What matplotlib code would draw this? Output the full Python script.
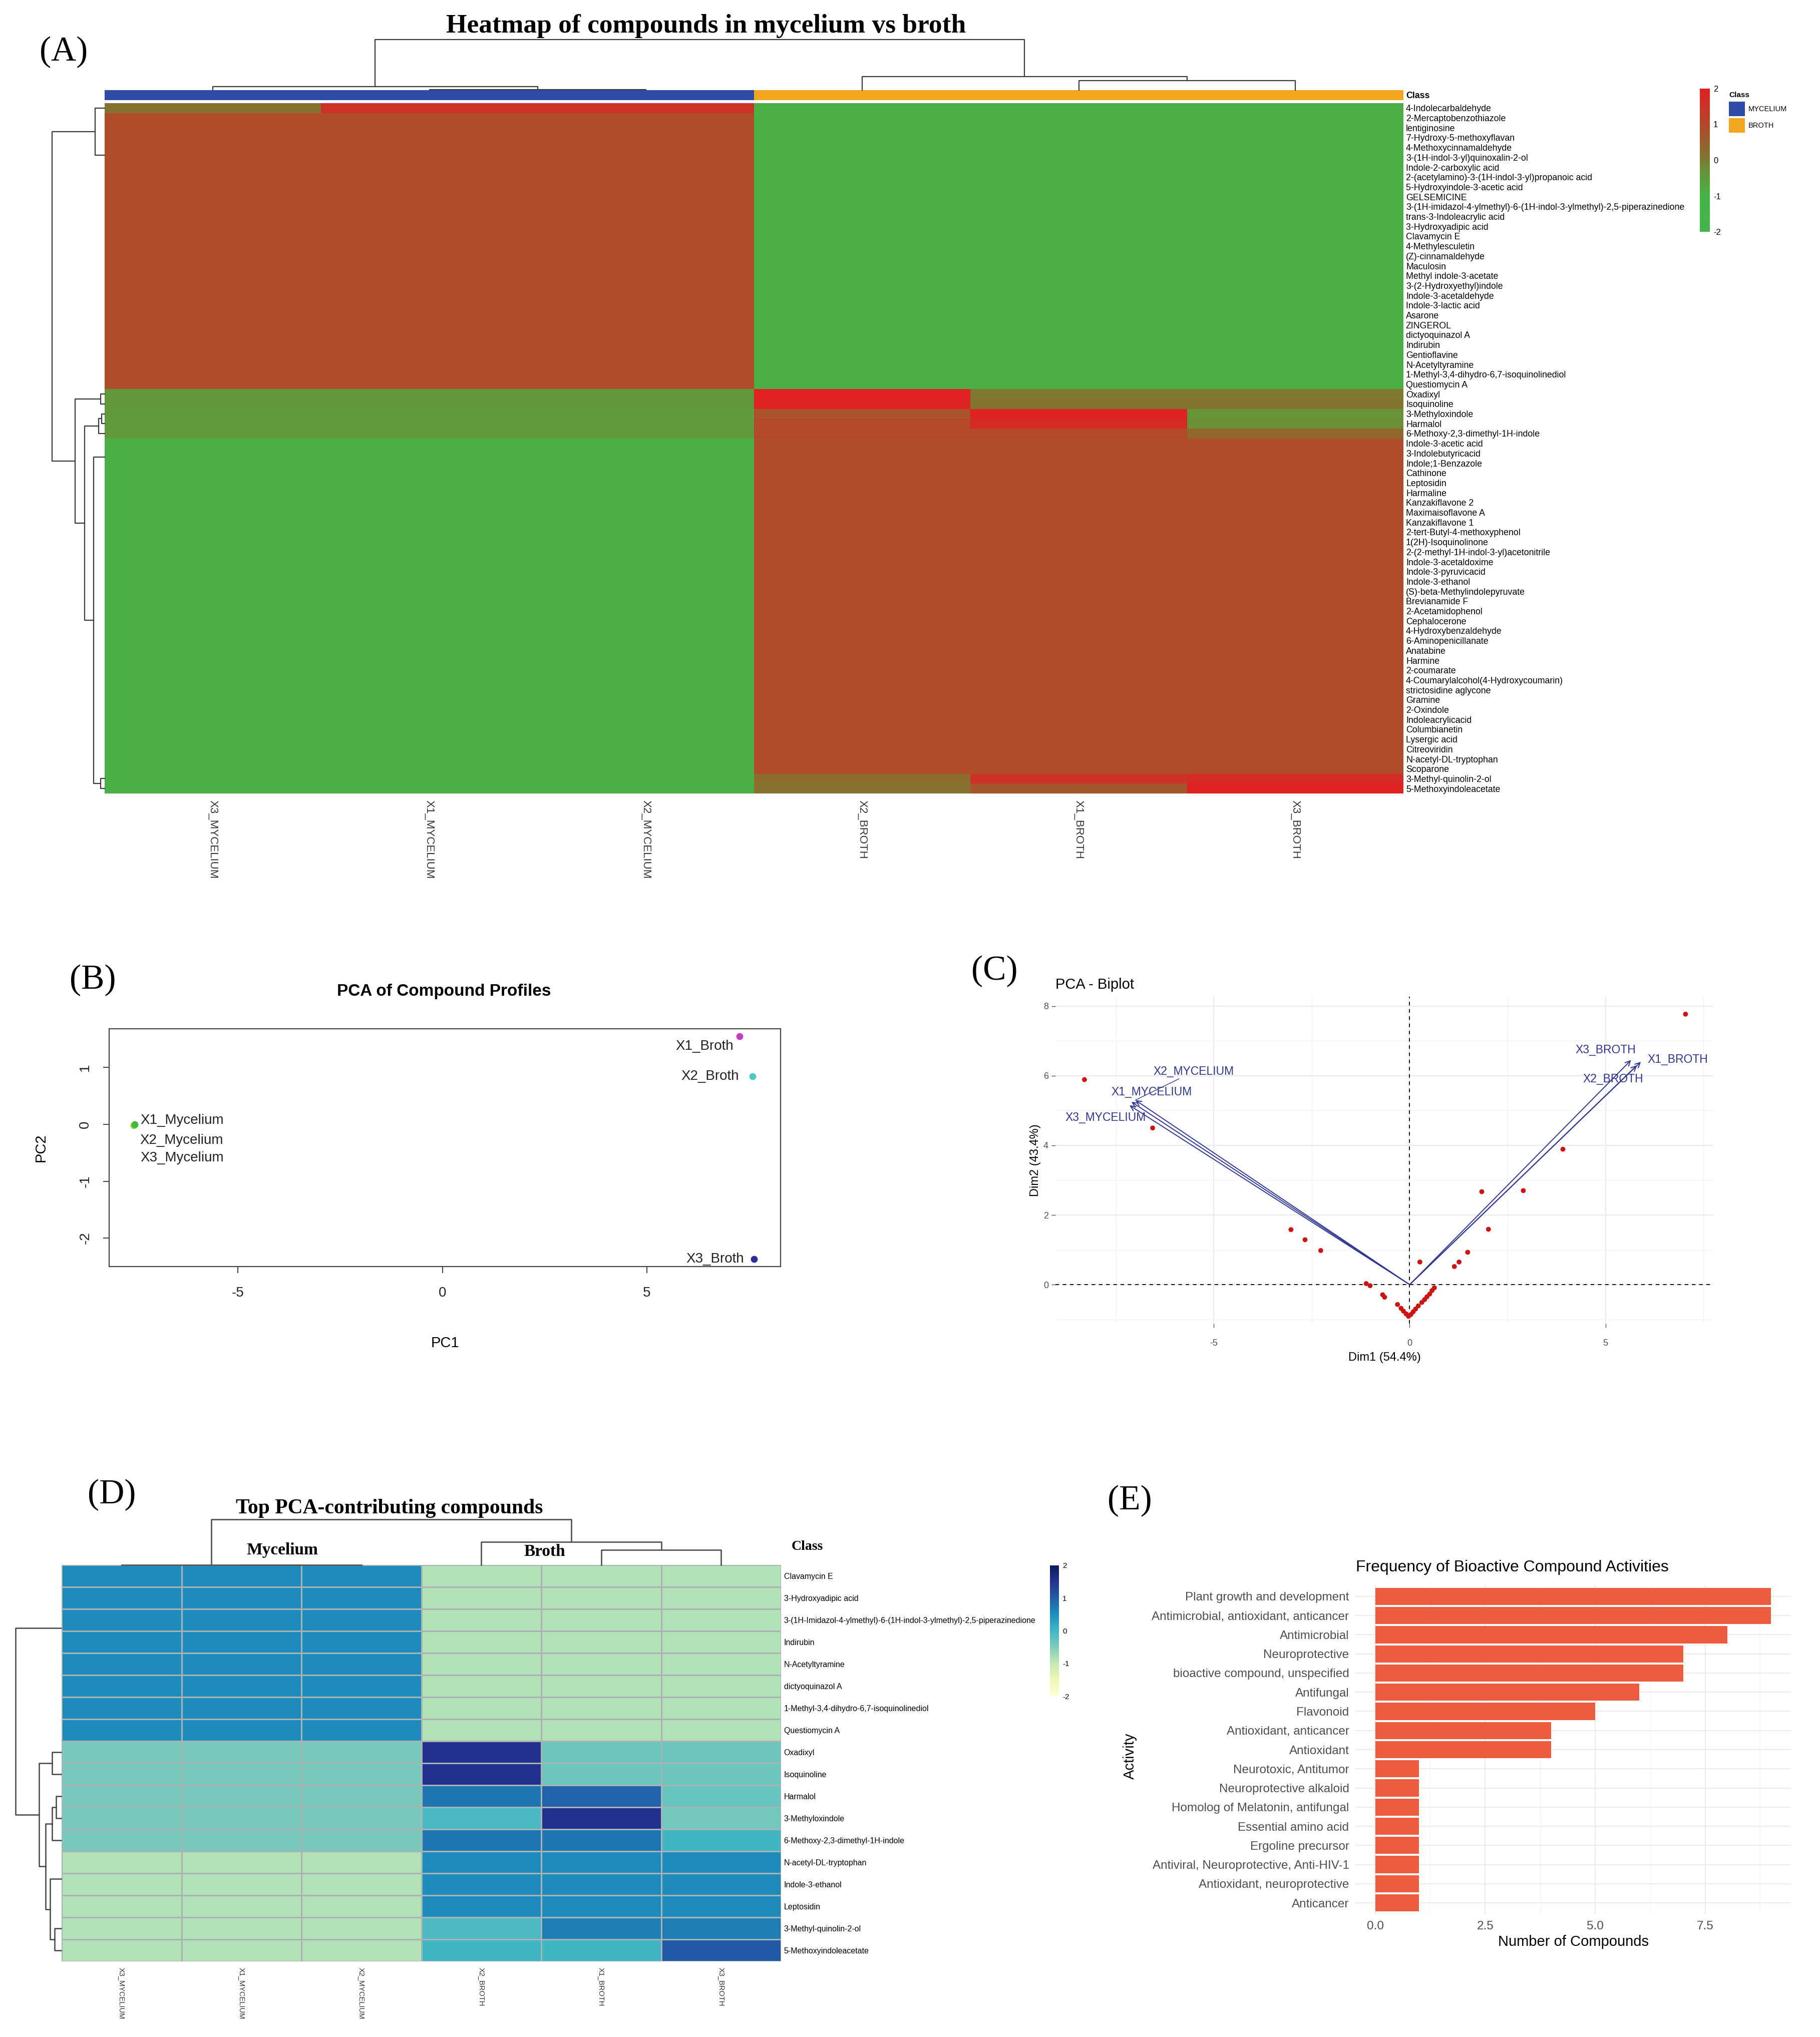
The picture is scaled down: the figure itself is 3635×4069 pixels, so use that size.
import numpy as np
import matplotlib
matplotlib.use("Agg")
import matplotlib.pyplot as plt
from matplotlib.colors import LinearSegmentedColormap, ListedColormap
from matplotlib.patches import Rectangle

plt.rcParams["font.family"] = ["Liberation Sans", "DejaVu Sans"]
plt.rcParams["axes.unicode_minus"] = False

W, H = 3635, 4069
SERIF = ["Liberation Serif", "DejaVu Serif"]

# ---------------- (A) heatmap of all compounds ----------------
heat_a_rows = [
    "4-Indolecarbaldehyde", "2-Mercaptobenzothiazole", "lentiginosine",
    "7-Hydroxy-5-methoxyflavan", "4-Methoxycinnamaldehyde",
    "3-(1H-indol-3-yl)quinoxalin-2-ol", "Indole-2-carboxylic acid",
    "2-(acetylamino)-3-(1H-indol-3-yl)propanoic acid",
    "5-Hydroxyindole-3-acetic acid", "GELSEMICINE",
    "3-(1H-imidazol-4-ylmethyl)-6-(1H-indol-3-ylmethyl)-2,5-piperazinedione",
    "trans-3-Indoleacrylic acid", "3-Hydroxyadipic acid", "Clavamycin E",
    "4-Methylesculetin", "(Z)-cinnamaldehyde", "Maculosin",
    "Methyl indole-3-acetate", "3-(2-Hydroxyethyl)indole",
    "Indole-3-acetaldehyde", "Indole-3-lactic acid", "Asarone", "ZINGEROL",
    "dictyoquinazol A", "Indirubin", "Gentioflavine", "N-Acetyltyramine",
    "1-Methyl-3,4-dihydro-6,7-isoquinolinediol", "Questiomycin A",
    "Oxadixyl", "Isoquinoline", "3-Methyloxindole", "Harmalol",
    "6-Methoxy-2,3-dimethyl-1H-indole", "Indole-3-acetic acid",
    "3-Indolebutyricacid", "Indole;1-Benzazole", "Cathinone", "Leptosidin",
    "Harmaline", "Kanzakiflavone 2", "Maximaisoflavone A", "Kanzakiflavone 1",
    "2-tert-Butyl-4-methoxyphenol", "1(2H)-Isoquinolinone",
    "2-(2-methyl-1H-indol-3-yl)acetonitrile", "Indole-3-acetaldoxime",
    "Indole-3-pyruvicacid", "Indole-3-ethanol",
    "(S)-beta-Methylindolepyruvate", "Brevianamide F", "2-Acetamidophenol",
    "Cephalocerone", "4-Hydroxybenzaldehyde", "6-Aminopenicillanate",
    "Anatabine", "Harmine", "2-coumarate",
    "4-Coumarylalcohol(4-Hydroxycoumarin)", "strictosidine aglycone",
    "Gramine", "2-Oxindole", "Indoleacrylicacid", "Columbianetin",
    "Lysergic acid", "Citreoviridin", "N-acetyl-DL-tryptophan", "Scoparone",
    "3-Methyl-quinolin-2-ol", "5-Methoxyindoleacetate",
]
heat_a_cols = ["X3_MYCELIUM", "X1_MYCELIUM", "X2_MYCELIUM",
               "X2_BROTH", "X1_BROTH", "X3_BROTH"]
heat_a_class = ["MYCELIUM", "MYCELIUM", "MYCELIUM", "BROTH", "BROTH", "BROTH"]
myc_high_a = [0.91, 0.91, 0.91, -0.91, -0.91, -0.91]
broth_high_a = [-0.91, -0.91, -0.91, 0.91, 0.91, 0.91]
heat_a_values = (
    [[0.15, 1.55, 1.55, -0.91, -0.91, -0.91]]
    + [myc_high_a] * 28
    + [[-0.4, -0.4, -0.4, 1.95, 0.05, 0.05],
       [-0.4, -0.4, -0.4, 1.9, 0.1, 0.1],
       [-0.45, -0.45, -0.45, 0.8, 1.9, -0.3],
       [-0.45, -0.45, -0.45, 1.0, 1.7, -0.2],
       [-0.45, -0.45, -0.45, 1.0, 1.0, 0.4]]
    + [broth_high_a] * 34
    + [[-0.91, -0.91, -0.91, 0.25, 1.5, 1.7],
       [-0.91, -0.91, -0.91, 0.2, 0.75, 1.9]]
)
# dendrograms: (left, right, merge height); int = leaf,
# [a, b, p] = block of identical leaves a..b whose zero-height comb sits at row p
row_tree_a = (
    (0, [1, 28, 5.3], 19),
    ((29, 30, 8),
     (((31, 32, 6), 33, 12), ([34, 67, 35.9], (68, 69, 8), 22), 40),
     59),
    105,
)
col_tree_a = ((0, (1, 2, 1), 7), (3, (4, 5, 19), 27), 101)

# ---------------- (B) PCA of profiles ----------------
pca_b_labels = ["X1_Mycelium", "X2_Mycelium", "X3_Mycelium",
                "X1_Broth", "X2_Broth", "X3_Broth"]
pca_b_pc1 = [-7.53, -7.55, -7.53, 7.27, 7.59, 7.62]
pca_b_pc2 = [0.0, -0.02, 0.0, 1.55, 0.84, -2.37]
pca_b_colors = ["#D8E02A", "#8ED63A", "#45B840", "#C23DC2", "#4CC8C8", "#2A2E9E"]

# ---------------- (C) biplot ----------------
ind_dim1 = [-8.30, -6.56, 7.04, -3.03, -2.67, -2.27, 3.91, 1.84, 2.90, 2.01,
            1.48, 1.26, 1.14, 0.26, -1.11, -1.01, -0.69, -0.64, -0.31, -0.22,
            -0.16, -0.09, -0.03, 0.03, 0.09, 0.15, 0.22, 0.31, 0.38, 0.44,
            0.51, 0.57, 0.63]
ind_dim2 = [5.89, 4.50, 7.77, 1.58, 1.29, 0.98, 3.89, 2.67, 2.70, 1.59,
            0.93, 0.65, 0.52, 0.65, 0.03, -0.03, -0.29, -0.36, -0.57, -0.68,
            -0.76, -0.84, -0.91, -0.86, -0.78, -0.70, -0.61, -0.51, -0.43, -0.35,
            -0.27, -0.17, -0.09]
var_names = ["X1_MYCELIUM", "X2_MYCELIUM", "X3_MYCELIUM",
             "X1_BROTH", "X2_BROTH", "X3_BROTH"]
var_dim1 = [-7.1, -7.0, -7.15, 5.9, 5.8, 5.65]
var_dim2 = [5.25, 5.3, 5.15, 6.4, 6.3, 6.45]

# ---------------- (D) top PCA-contributing compounds ----------------
heat_d_rows = [
    "Clavamycin E", "3-Hydroxyadipic acid",
    "3-(1H-Imidazol-4-ylmethyl)-6-(1H-indol-3-ylmethyl)-2,5-piperazinedione",
    "Indirubin", "N-Acetyltyramine", "dictyoquinazol A",
    "1-Methyl-3,4-dihydro-6,7-isoquinolinediol", "Questiomycin A",
    "Oxadixyl", "Isoquinoline", "Harmalol", "3-Methyloxindole",
    "6-Methoxy-2,3-dimethyl-1H-indole", "N-acetyl-DL-tryptophan",
    "Indole-3-ethanol", "Leptosidin", "3-Methyl-quinolin-2-ol",
    "5-Methoxyindoleacetate",
]
heat_d_cols = heat_a_cols
myc_high_d = [0.55, 0.55, 0.55, -0.85, -0.85, -0.85]
broth_high_d = [-0.85, -0.85, -0.85, 0.55, 0.55, 0.55]
heat_d_values = (
    [myc_high_d] * 8
    + [[-0.45, -0.45, -0.45, 1.55, -0.35, -0.35],
       [-0.45, -0.45, -0.45, 1.55, -0.35, -0.35],
       [-0.45, -0.45, -0.45, 0.75, 0.95, -0.3],
       [-0.45, -0.45, -0.45, -0.05, 1.55, -0.4],
       [-0.45, -0.45, -0.45, 0.75, 0.75, 0.0]]
    + [broth_high_d] * 3
    + [[-0.85, -0.85, -0.85, -0.1, 0.7, 0.7],
       [-0.85, -0.85, -0.85, 0.0, 0.0, 1.05]]
)
row_tree_d = (
    [0, 7, 2.86],
    ((8, 9, 18),
     (((10, 11, 10), 12, 18), ([13, 15, 14.25], (16, 17, 13), 22), 31),
     44),
    91,
)
col_tree_d = ((0, (1, 2, 0), 0), (3, (4, 5, 30), 46), 91)

# ---------------- (E) activity frequencies ----------------
activities = [
    "Plant growth and development", "Antimicrobial, antioxidant, anticancer",
    "Antimicrobial", "Neuroprotective", "bioactive compound, unspecified",
    "Antifungal", "Flavonoid", "Antioxidant, anticancer", "Antioxidant",
    "Neurotoxic, Antitumor", "Neuroprotective alkaloid",
    "Homolog of Melatonin, antifungal", "Essential amino acid",
    "Ergoline precursor", "Antiviral, Neuroprotective, Anti-HIV-1",
    "Antioxidant, neuroprotective", "Anticancer",
]
activity_counts = [9, 9, 8, 7, 7, 6, 5, 4, 4, 1, 1, 1, 1, 1, 1, 1, 1]

# ---------------- colour maps ----------------
cmap_a = LinearSegmentedColormap.from_list(
    "grn_red", [(0.0, "#43B649"), (0.25, "#46B447"), (0.45, "#6B8F35"),
                (0.5, "#7D7A30"), (0.75, "#B3482A"), (1.0, "#E41F22")])
cmap_d = plt.get_cmap("YlGnBu")

fig = plt.figure(figsize=(W / 100, H / 100), dpi=100, facecolor="white")


def px_axes(x0, y0, x1, y1):
    return fig.add_axes([x0 / W, 1 - y1 / H, (x1 - x0) / W, (y1 - y0) / H])


def leaf_pos(node):
    if isinstance(node, list):
        return node[2], 0
    return node + 0.5, 0


def draw_tree(ax, node, side, **kw):
    if not isinstance(node, tuple):
        return leaf_pos(node)
    left, right, h = node
    pl, hl = draw_tree(ax, left, side, **kw)
    pr, hr = draw_tree(ax, right, side, **kw)
    if side == "top":
        ax.plot([pl, pl, pr, pr], [hl, h, h, hr], clip_on=False, **kw)
    else:
        ax.plot([hl, h, h, hr], [pl, pl, pr, pr], clip_on=False, **kw)
    return (pl + pr) / 2, h


def bare(ax):
    for s in ax.spines.values():
        s.set_visible(False)


# ================= panel A =================
vals_a = np.array(heat_a_values)
ax = px_axes(209, 206, 2803, 1585)
ax.pcolormesh(vals_a, cmap=cmap_a, vmin=-2, vmax=2)
ax.set_xlim(0, vals_a.shape[1])
ax.set_ylim(vals_a.shape[0], 0)
ax.yaxis.tick_right()
ax.set_yticks(np.arange(len(heat_a_rows)) + 0.5, heat_a_rows, fontsize=12.8)
ax.set_xticks(np.arange(len(heat_a_cols)) + 0.5, heat_a_cols, fontsize=16,
              rotation=270, color="#333333")
ax.tick_params(length=0)
ax.tick_params(axis="y", pad=3.6)
ax.tick_params(axis="x", pad=9)
bare(ax)

axc = px_axes(209, 180, 2803, 200)
class_codes = [[0 if c == "MYCELIUM" else 1 for c in heat_a_class]]
axc.pcolormesh(class_codes, cmap=ListedColormap(["#2F4BA6", "#F2A61F"]), vmin=0, vmax=1)
axc.set_xlim(0, 6)
axc.set_xticks([])
axc.yaxis.tick_right()
axc.set_yticks([0.5], ["Class"], fontsize=12.8, fontweight="bold")
axc.tick_params(length=0, pad=3.6)
bare(axc)

axt = px_axes(209, 79, 2803, 180)
draw_tree(axt, col_tree_a, "top", color="#3A3A3A", lw=1.6)
axt.set_xlim(0, 6)
axt.set_ylim(0, 101)
axt.axis("off")

axl = px_axes(104, 206, 209, 1585)
draw_tree(axl, row_tree_a, "left", color="#3A3A3A", lw=1.6)
axl.set_xlim(105, 0)
axl.set_ylim(70, 0)
axl.axis("off")

axb = px_axes(3395, 177, 3415, 463)
axb.imshow(np.linspace(-2, 2, 256)[:, None], cmap=cmap_a, aspect="auto",
           extent=[0, 1, -2, 2], origin="lower")
axb.set_xticks([])
axb.yaxis.tick_right()
axb.set_yticks([-2, -1, 0, 1, 2])
axb.tick_params(length=0, labelsize=12, pad=5)
bare(axb)

# ================= panel B =================
ax = px_axes(218, 2055, 1559, 2530)
for i in range(len(pca_b_labels)):
    ax.scatter(pca_b_pc1[i], pca_b_pc2[i], s=80, color=pca_b_colors[i], zorder=3)
label_offsets_b = [(12, 8), (12, -30), (12, -67), (-12, -20), (-28, 0), (-20, 0)]
for i, lab in enumerate(pca_b_labels):
    dx, dy = label_offsets_b[i]
    ax.annotate(lab, (pca_b_pc1[i], pca_b_pc2[i]), xytext=(dx, dy),
                textcoords="offset pixels", fontsize=20,
                ha="left" if dx > 0 else "right", va="center", color="#222222")
ax.set_xlim(-8.15, 8.27)
ax.set_ylim(-2.5, 1.68)
ax.set_xticks([-5, 0, 5])
ax.set_yticks([-2, -1, 0, 1])
ax.tick_params(length=9, width=1.3, labelsize=20, color="#333333", labelcolor="#222222")
ax.tick_params(axis="x", pad=20)
ax.tick_params(axis="y", pad=16)
for lab in ax.get_yticklabels():
    lab.set_rotation(90)
    lab.set_va("center")
for s in ax.spines.values():
    s.set_color("#444444")
    s.set_linewidth(1.6)
ax.set_xlabel("PC1", fontsize=21)
ax.set_ylabel("PC2", fontsize=21)
ax.xaxis.set_label_coords(0.5, -(2669 - 2530) / 475)
ax.yaxis.set_label_coords(-(218 - 96) / 1341, 0.5)

# ================= panel C =================
navy = "#2F3590"
ax = px_axes(2108, 1991, 3422, 2644)
ax.set_xlim(-9.04, 7.75)
ax.set_ylim(-1.12, 8.27)
ax.set_xticks([-5, 0, 5])
ax.set_yticks([0, 2, 4, 6, 8])
ax.set_xticks([-7.5, -2.5, 2.5, 7.5], minor=True)
ax.set_yticks([-1, 1, 3, 5, 7], minor=True)
ax.grid(which="major", color="#EBEBEB", lw=1.6)
ax.grid(which="minor", color="#F3F3F3", lw=1.0)
ax.set_axisbelow(True)
bare(ax)
ax.tick_params(which="major", length=6, width=1, color="#555555",
               labelsize=13, labelcolor="#4D4D4D", pad=4)
ax.tick_params(axis="x", pad=16)
ax.tick_params(which="minor", length=0)
ax.axhline(0, color="black", ls=(0, (4, 4)), lw=1.3)
ax.axvline(0, color="black", ls=(0, (4, 4)), lw=1.3)
ax.scatter(ind_dim1, ind_dim2, s=50, color="#CC1414", zorder=3, edgecolors="none")
for i in range(len(var_names)):
    ax.annotate("", xy=(var_dim1[i], var_dim2[i]), xytext=(0, 0),
                arrowprops=dict(arrowstyle="->", color=navy, lw=1.4,
                                mutation_scale=18, shrinkA=0, shrinkB=0))
var_label_offsets = [(-40, 20), (36, 57), (-128, -25), (13, 5), (-108, -28), (-111, 20)]
for i, name in enumerate(var_names):
    dx, dy = var_label_offsets[i]
    segment = dict(arrowstyle="-", color=navy, lw=1.0, shrinkA=0, shrinkB=0) \
        if name in ("X2_MYCELIUM",) else None
    ax.annotate(name, (var_dim1[i], var_dim2[i]), xytext=(dx, dy),
                textcoords="offset pixels", ha="left", va="center",
                fontsize=16.5, color=navy, arrowprops=segment)
ax.set_xlabel("Dim1 (54.4%)", fontsize=17)
ax.set_ylabel("Dim2 (43.4%)", fontsize=17)
ax.xaxis.set_label_coords(0.5, -(2712 - 2644) / 653)
ax.yaxis.set_label_coords(-(2108 - 2068) / 1314, 0.5)
ax.xaxis.label.set_va("center")
ax.yaxis.label.set_va("center")

# ================= panel D =================
vals_d = np.array(heat_d_values)
ax = px_axes(123, 3126, 1560, 3918)
ax.pcolormesh(vals_d, cmap=cmap_d, vmin=-2, vmax=2, edgecolors="#A9B3B5", linewidth=0.8)
ax.set_xlim(0, 6)
ax.set_ylim(vals_d.shape[0], 0)
ax.yaxis.tick_right()
ax.set_yticks(np.arange(len(heat_d_rows)) + 0.5, heat_d_rows, fontsize=11.5)
ax.set_xticks(np.arange(len(heat_d_cols)) + 0.5, heat_d_cols, fontsize=10.5,
              rotation=270, color="#333333")
ax.tick_params(length=0)
ax.tick_params(axis="y", pad=4)
ax.tick_params(axis="x", pad=9)
bare(ax)

axt = px_axes(123, 3035, 1560, 3126)
draw_tree(axt, col_tree_d, "top", color="#555555", lw=2)
axt.set_xlim(0, 6)
axt.set_ylim(0, 91)
axt.axis("off")

axl = px_axes(31, 3126, 122, 3918)
draw_tree(axl, row_tree_d, "left", color="#444444", lw=1.8)
axl.set_xlim(91, 0)
axl.set_ylim(18, 0)
axl.axis("off")

axb = px_axes(2097, 3127, 2115, 3388)
axb.imshow(np.linspace(-2, 2, 256)[:, None], cmap=cmap_d, aspect="auto",
           extent=[0, 1, -2, 2], origin="lower")
axb.set_xticks([])
axb.yaxis.tick_right()
axb.set_yticks([-2, -1, 0, 1, 2])
axb.tick_params(length=0, labelsize=11, pad=5)
bare(axb)

# ================= panel E =================
ax = px_axes(2707, 3166, 3577, 3824)
ypos = np.arange(len(activities))
ax.barh(ypos, activity_counts, height=0.9, color="#EE5C3F", zorder=3)
ax.set_ylim(len(activities) - 0.4, -0.6)
ax.set_xlim(-0.45, 9.45)
ax.set_yticks(ypos, activities)
ax.set_xticks([0, 2.5, 5, 7.5], ["0.0", "2.5", "5.0", "7.5"])
ax.set_xticks([1.25, 3.75, 6.25, 8.75], minor=True)
ax.grid(which="major", color="#EBEBEB", lw=1.5)
ax.grid(which="minor", axis="x", color="#F3F3F3", lw=0.9)
ax.set_axisbelow(True)
bare(ax)
ax.tick_params(which="both", length=0, labelsize=17.5, labelcolor="#4D4D4D")
ax.tick_params(axis="y", pad=9)
ax.tick_params(axis="x", pad=9)

# ================= overlay texts =================
ov = fig.add_axes([0, 0, 1, 1], facecolor="none")
ov.set_xlim(0, W)
ov.set_ylim(H, 0)
ov.axis("off")

for lab, (x, y) in [("(A)", (127, 104)), ("(B)", (185, 1958)), ("(C)", (1986, 1940)),
                    ("(D)", (223, 2986)), ("(E)", (2256, 2998))]:
    ov.text(x, y, lab, fontsize=50, family=SERIF, ha="center", va="center")

ov.text(1410, 52, "Heatmap of compounds in mycelium vs broth", fontsize=38.5,
        family=SERIF, fontweight="bold", ha="center", va="center")
ov.text(778, 3013, "Top PCA-contributing compounds", fontsize=30,
        family=SERIF, fontweight="bold", ha="center", va="center")
ov.text(564, 3097, "Mycelium", fontsize=24, family=SERIF, fontweight="bold",
        ha="center", va="center")
ov.text(1088, 3100, "Broth", fontsize=24, family=SERIF, fontweight="bold",
        ha="center", va="center")
ov.text(1612, 3090, "Class", fontsize=20, family=SERIF, fontweight="bold",
        ha="center", va="center")

# class legend of panel A
ov.text(3453, 190, "Class", fontsize=11, fontweight="bold", ha="left", va="center")
for k, (name, col) in enumerate([("MYCELIUM", "#2F4BA6"), ("BROTH", "#F2A61F")]):
    y0 = 203 + k * 33
    ov.add_patch(Rectangle((3453, y0), 32, 29, facecolor=col, edgecolor="none"))
    ov.text(3492, y0 + 14.5, name, fontsize=10.5, ha="left", va="center")

ov.text(887, 1980, "PCA of Compound Profiles", fontsize=24, fontweight="bold",
        ha="center", va="center")
ov.text(2108, 1967, "PCA - Biplot", fontsize=21, ha="left", va="center")
ov.text(2708, 3131, "Frequency of Bioactive Compound Activities", fontsize=23,
        ha="left", va="center")
ov.text(3142, 3879, "Number of Compounds", fontsize=21, ha="center", va="center")
ov.text(2257, 3508, "Activity", fontsize=21, ha="center", va="center", rotation=90)

fig.savefig("out.png", dpi=100, facecolor="white")
